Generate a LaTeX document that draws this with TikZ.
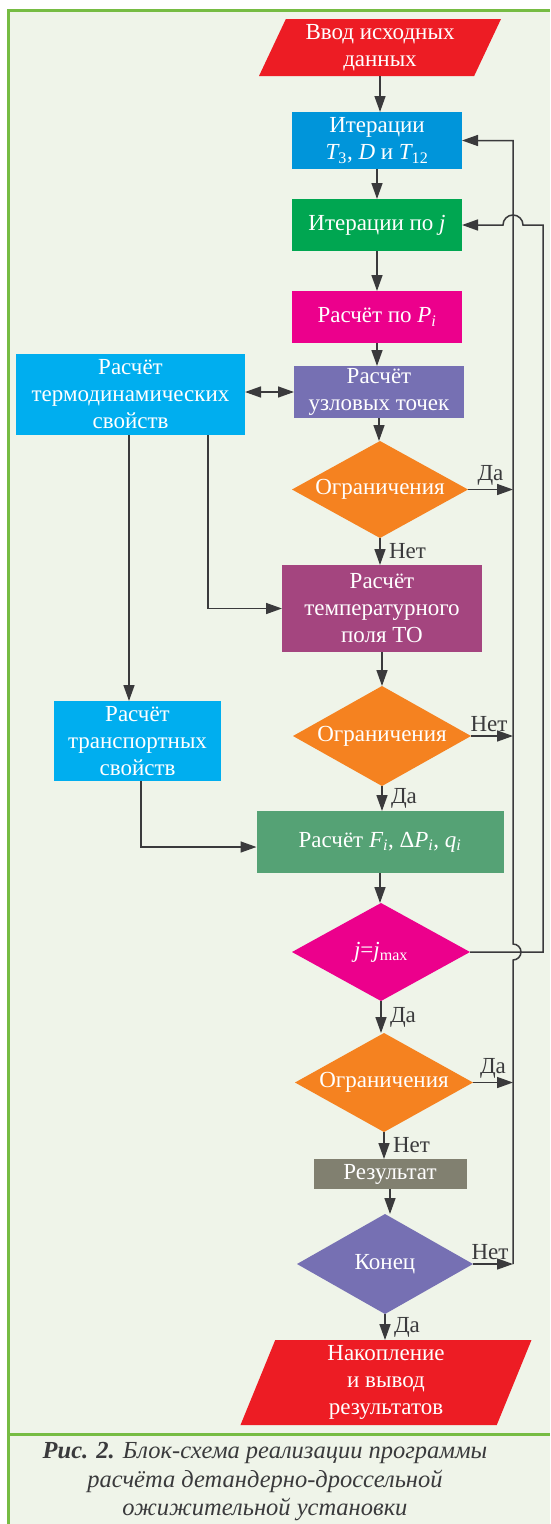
\documentclass[tikz,border=0pt]{standalone}
\usepackage{fontspec}
\setmainfont{Liberation Serif}
\usepackage{tikz}
\usetikzlibrary{arrows.meta,positioning,shapes.geometric,calc}

\definecolor{bgpaper}{HTML}{EFF4E9}
\definecolor{framegreen}{HTML}{76BC43}
\definecolor{linec}{HTML}{3A3A3C}
\definecolor{inred}{HTML}{ED1C24}
\definecolor{itblue}{HTML}{0095DA}
\definecolor{itgreen}{HTML}{00A651}
\definecolor{magent}{HTML}{EC008C}
\definecolor{lilac}{HTML}{7670B3}
\definecolor{orang}{HTML}{F58220}
\definecolor{cyanbox}{HTML}{00AEEF}
\definecolor{plum}{HTML}{A4457F}
\definecolor{sage}{HTML}{55A275}
\definecolor{olivegray}{HTML}{818070}

\tikzset{
  blk/.style={rectangle, fill=#1, text=white, align=center, inner sep=2pt},
  dec/.style={diamond, fill=#1, text=white, inner sep=0pt, minimum width=178pt, minimum height=98pt},
  io/.style 2 args={trapezium, trapezium left angle=#1, trapezium right angle=#2,
    trapezium stretches body, fill=inred, text=white, align=center, inner sep=2pt},
  lbl/.style={text=linec, inner sep=2pt},
}

\begin{document}
\begin{tikzpicture}[x=1pt,y=1pt,>={Triangle[length=16pt,width=11pt]},line width=1.5pt,
  every node/.style={font=\fontsize{23pt}{27pt}\selectfont, outer sep=0pt}]

% paper and frame
\useasboundingbox (0,0) rectangle (550,-1524);
\fill[white] (0,0) rectangle (550,-1524);
\fill[bgpaper] (8,-9) rectangle (550,-1524);
\draw[framegreen, line width=3pt] (8.5,-1524) -- (8.5,-10) -- (550,-10);
\draw[framegreen, line width=3pt] (8.5,-1434) -- (550,-1434);

% main column
\node[io={62}{118}, minimum width=242pt, minimum height=57pt] (in) at (380,-47.5) {Ввод исходных\\данных};
\node[blk=itblue, minimum width=170pt, minimum height=57pt] (it1) at (377,-140.5)
  {Итерации\\{\itshape T}\textsubscript{3}, {\itshape D} и {\itshape T}\textsubscript{12}};
\node[blk=itgreen, minimum width=170pt, minimum height=52pt, below=30pt of it1] (itj) {Итерации по {\itshape j}};
\node[blk=magent, minimum width=170pt, minimum height=52pt, below=40pt of itj] (rp)
  {Расчёт по {\itshape P}\textsubscript{\itshape i}};
\node[blk=lilac, minimum width=170pt, minimum height=52pt, below=23pt of rp, xshift=2pt] (uz) {Расчёт\\узловых точек};
\node[dec=orang, minimum width=176pt, minimum height=97pt, below=23pt of uz, xshift=1pt] (d1) {\makebox[0pt]{Ограничения}};
\node[blk=plum, minimum width=200pt, minimum height=87pt, below=27pt of d1, xshift=2pt] (tf) {Расчёт\\температурного\\поля ТО};
\node[dec=orang, minimum height=100pt, below=34pt of tf] (d2) {\makebox[0pt]{Ограничения}};
\node[blk=sage, minimum width=247pt, minimum height=62pt, below=25pt of d2, xshift=-2pt] (rf)
  {Расчёт {\itshape F}\textsubscript{\itshape i}, Δ{\itshape P}\textsubscript{\itshape i}, {\itshape q}\textsubscript{\itshape i}};
\node[dec=magent, below=30pt of rf, xshift=1pt] (d3) {\makebox[0pt]{{\itshape j}={\itshape j}\textsubscript{max}}};
\node[dec=orang, minimum height=99pt, below=32pt of d3, xshift=3pt] (d4) {\makebox[0pt]{Ограничения}};
\node[blk=olivegray, minimum width=153pt, minimum height=30pt, below=27pt of d4, xshift=6pt] (res) {Результат};
\node[dec=lilac, minimum width=176pt, minimum height=100pt, below=25pt of res, xshift=-5pt] (kon) {\makebox[0pt]{Конец}};
\node[io={66}{114}, minimum width=291pt, minimum height=85pt, below=26pt of kon, xshift=1pt] (out)
  {Накопление\\и вывод\\результатов};

% property boxes
\node[blk=cyanbox, minimum width=229pt, minimum height=81pt, left=49pt of uz, yshift=-2.5pt] (td)
  {Расчёт\\термодинамических\\свойств};
\node[blk=cyanbox, minimum width=167pt, minimum height=80pt, left=72pt of d2, yshift=-5pt] (tr)
  {Расчёт\\транспортных\\свойств};

% return lines
\coordinate[right=45pt of d1] (lp);
\coordinate[right=73pt of d3] (op);

\begin{scope}[draw=linec]
\foreach \a/\b in {in/it1, it1/itj, itj/rp, rp/uz, uz/d1, tf/d2, rf/d3, res/kon}
  \draw[->] (\a.south) -- (\a.south |- \b.north);

\draw[->] (d1.south) -- (d1.south |- tf.north) node[lbl, midway, right, xshift=7pt] {Нет};
\draw[->] (d2.south) -- (d2.south |- rf.north) node[lbl, midway, right, xshift=7pt] {Да};
\draw[->] (d3.south) -- (d3.south |- d4.north) node[lbl, midway, right, xshift=7pt] {Да};
\draw[->] (d4.south) -- (d4.south |- res.north) node[lbl, midway, right, xshift=7pt] {Нет};
\draw[->] (kon.south) -- (kon.south |- out.north) node[lbl, midway, right, xshift=7pt] {Да};

\draw[->] (d1.east) -- (d1.east -| lp) node[lbl, midway, above, yshift=2pt] {Да};
\draw[->] (d2.east) -- (d2.east -| lp) node[lbl, midway, above, yshift=2pt, xshift=-3pt] {Нет};
\draw[->] (d4.east) -- (d4.east -| lp) node[lbl, midway, above, yshift=2pt] {Да};
\draw[->] (kon.east) -- (kon.east -| lp) node[lbl, midway, above, yshift=2pt, xshift=-3pt] {Нет};

\draw[->] (kon.east -| lp) -- ($(d3.east -| lp)+(0,-8pt)$) arc[start angle=-90, end angle=90, radius=8pt]
  -- (it1.east -| lp) -- (it1.east);
\draw[->] (d3.east) -- (op) -- (itj.east -| op) -- ($(itj.east -| lp)+(10pt,0)$)
  arc[start angle=0, end angle=180, radius=10pt] -- (itj.east);

\draw[<->] (td.east |- uz.west) -- (uz.west);
\draw[->] ([xshift=77.5pt]td.south) |- (tf.west);
\draw[->] ([xshift=-1.5pt]td.south) -- ([xshift=-1.5pt]td.south |- tr.north);
\draw[->] ([xshift=3.5pt]tr.south) |- ([yshift=-5pt]rf.west);
\end{scope}

% caption
\node[text=linec, align=center, font=\itshape\fontsize{24.5pt}{28.5pt}\selectfont] (cap) at (265,-1482)
  {\textbf{Рис. 2.} Блок-схема реализации программы\\расчёта детандерно-дроссельной\\ожижительной установки};

\end{tikzpicture}
\end{document}
